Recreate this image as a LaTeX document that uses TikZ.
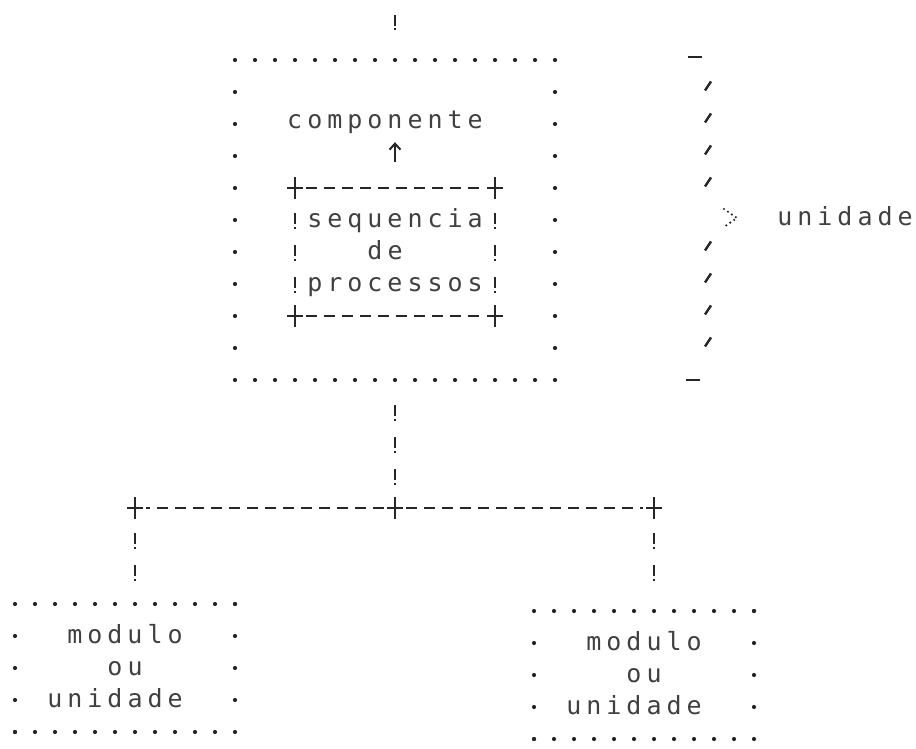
\documentclass[tikz,border=0pt]{standalone}
\usepackage{fontspec}
\newfontfamily\dotfont[LetterSpace=20]{DejaVu Sans Mono}
\usetikzlibrary{arrows.meta}
\newcommand\plusat[1]{\draw[plusln] ([xshift=-8pt]#1) -- ([xshift=8pt]#1) ([yshift=-11pt]#1) -- ([yshift=11pt]#1);}
\newcommand\dotbox[1]{%
  \draw[hdots] (#1.north east) -- (#1.north west);
  \draw[vdots] (#1.north west) -- (#1.south west);
  \draw[hdots] (#1.south west) -- (#1.south east);
  \draw[vdots] (#1.south east) -- (#1.north east);}
\begin{document}
\begin{tikzpicture}[x=1pt,y=-1pt,
  txt/.style={font={\dotfont\fontsize{25pt}{30pt}\selectfont}, text=black!75, inner sep=0pt, text height=14pt, text depth=0pt},
  hdots/.style={draw=black!85, line width=4.2pt, line cap=round, dash pattern=on 0pt off 20pt},
  vdots/.style={draw=black!85, line width=4.2pt, line cap=round, dash pattern=on 0pt off 32pt},
  excl/.style={draw=black!85, line width=2.2pt, dash pattern=on 11pt off 2.5pt on 2pt off 16.5pt, shorten <=25pt, shorten >=12pt},
  dashln/.style={draw=black!85, line width=2pt, dash pattern=on 11pt off 7pt, shorten <=11pt, shorten >=11pt},
  plusln/.style={draw=black!85, line width=2.2pt},
  box/.style={rectangle, inner sep=0pt, outer sep=0pt},
  arr/.style={draw=black!85, line width=2pt, shorten <=26pt, shorten >=13pt, -{Straight Barb[length=6pt,width=11pt]}},
  chev/.style={draw=black!85, line width=2.4pt, line cap=round, dash pattern=on 0pt off 4.8pt}]
\useasboundingbox (0,0) rectangle (916,749);
% boxes
\node[box, minimum width=320pt, minimum height=320pt] (comp) at (395,220) {};
\node[box, minimum width=200pt, minimum height=128pt] (seq) at (395,252) {};
\node[box, minimum width=220pt, minimum height=128pt] (modl) at (125,668) {};
\node[box, minimum width=220pt, minimum height=128pt] (modr) at (644,675) {};
% texts
\node[txt] (compo) at (385,122) {componente};
\node[txt] (tseq) at (395,220) {sequencia};
\node[txt] (tde) at (385,252) {de};
\node[txt] (tproc) at (395,284) {processos};
\node[txt] (lmod) at (125,636) {modulo};
\node[txt] (lou) at (125,668) {ou};
\node[txt] (luni) at (115,700) {unidade};
\node[txt] (rmod) at (644,643) {modulo};
\node[txt] (rou) at (644,675) {ou};
\node[txt] (runi) at (634,707) {unidade};
\node[txt] (uni) at (845,218) {unidade};
% dotted borders
\dotbox{comp}
\dotbox{modl}
\dotbox{modr}
% inner box border
\draw[dashln] (seq.north west) -- (seq.north east);
\draw[dashln] (seq.south west) -- (seq.south east);
\draw[excl] (seq.north west) -- (seq.south west);
\draw[excl] (seq.north east) -- (seq.south east);
\plusat{seq.north west}
\plusat{seq.north east}
\plusat{seq.south west}
\plusat{seq.south east}
% arrow
\draw[arr] (seq.north) -- (seq.north |- compo.south);
% connectors
\coordinate (top) at (395,15);
\coordinate (jl) at (135,508);
\coordinate (jm) at (395,508);
\coordinate (jr) at (654,508);
\draw[excl, shorten <=0pt, shorten >=26pt] (top) -- (comp.north);
\draw[excl] (comp.south) -- (jm);
\draw[dashln] (jm) -- (jl);
\draw[dashln] (jm) -- (jr);
\draw[excl, shorten >=10pt] (jl) -- (jl |- modl.north);
\draw[excl, shorten >=15pt] (jr) -- (jr |- modr.north);
\plusat{jl}
\plusat{jm}
\plusat{jr}
% bracket
\coordinate (bt) at (695,57);
\coordinate (bb) at (693,380);
\draw[plusln] ([xshift=-7pt]bt) -- ([xshift=7pt]bt);
\draw[plusln] ([xshift=-7pt]bb) -- ([xshift=7pt]bb);
\foreach \y in {86,118,150,182,246,278,310,342}
  \draw[plusln, line width=2.4pt] (705,\y+4.5) -- (711,\y-4.5);
\draw[chev] (724,209) -- (737,218) -- (724,227);
\end{tikzpicture}
\end{document}
